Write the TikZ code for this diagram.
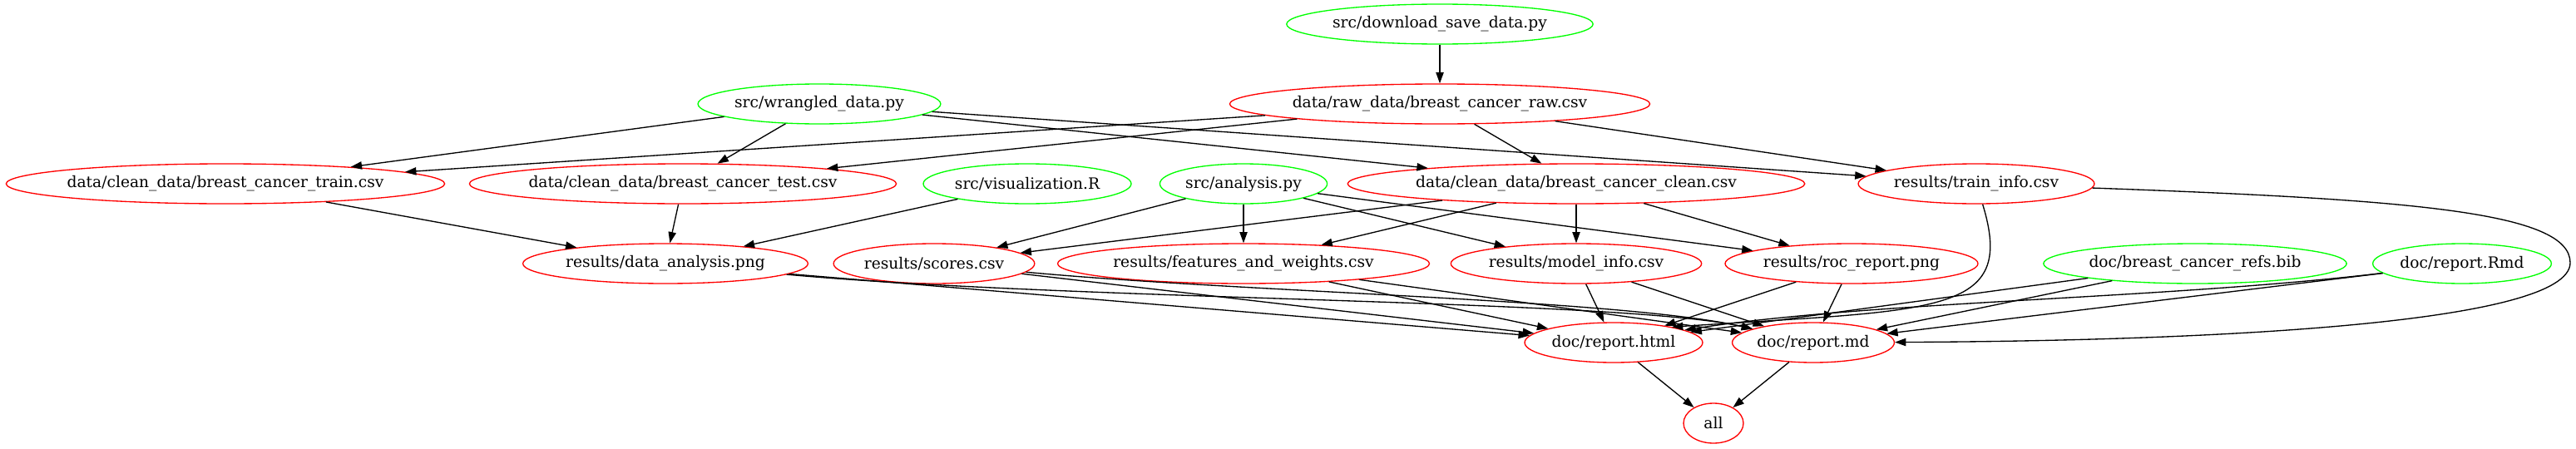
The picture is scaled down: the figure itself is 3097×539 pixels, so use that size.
\documentclass[tikz,border=0pt]{standalone}
\usepackage{fontspec}
\setmainfont{DejaVu Serif}
\usetikzlibrary{arrows.meta, shapes.geometric}

\definecolor{srcgreen}{RGB}{0,255,0}
\definecolor{outred}{RGB}{255,0,0}

\begin{document}
\begin{tikzpicture}[
    x=0.75pt, y=-0.75pt,
    font=\fontsize{14pt}{17pt}\selectfont,
    filebox/.style={
        ellipse, draw=#1, line width=1pt, inner xsep=1pt,
        minimum height=36pt, minimum width=54pt
    },
    srcfile/.style={filebox=srcgreen},
    outfile/.style={filebox=outred},
    arrow/.style={-{Triangle[length=10pt, width=7pt]}, line width=1pt, draw=black}
]
\useasboundingbox (0,0) rectangle (3097,539);

% Scripts and raw data (top rows)
\node[srcfile] (dl)      at (1731,29)  {src/download\_save\_data.py};
\node[srcfile] (wrangle) at (985,125)  {src/wrangled\_data.py};
\node[outfile] (raw)     at (1731,125) {data/raw\_data/breast\_cancer\_raw.csv};

% Clean data and analysis scripts
\node[outfile, inner xsep=-3pt] (train) at (271,221) {data/clean\_data/breast\_cancer\_train.csv};
\node[outfile, inner xsep=-3pt] (test)  at (821,221) {data/clean\_data/breast\_cancer\_test.csv};
\node[srcfile] (vis)       at (1235,221) {src/visualization.R};
\node[srcfile] (analysis)  at (1495,221) {src/analysis.py};
\node[outfile] (clean)     at (1895,221) {data/clean\_data/breast\_cancer\_clean.csv};
\node[outfile] (traininfo) at (2376,221) {results/train\_info.csv};

% Results and report sources
\node[outfile] (dataplot)  at (800,317)  {results/data\_analysis.png};
\node[outfile] (scores)    at (1123,317) {results/scores.csv};
\node[outfile] (weights)   at (1495,317) {results/features\_and\_weights.csv};
\node[outfile] (modelinfo) at (1895,317) {results/model\_info.csv};
\node[outfile] (roc)       at (2226,317) {results/roc\_report.png};
\node[srcfile] (refs)      at (2639,317) {doc/breast\_cancer\_refs.bib};
\node[srcfile] (rmd)       at (2960,317) {doc/report.Rmd};

% Reports and final target
\node[outfile] (html) at (1940,412) {doc/report.html};
\node[outfile] (md)   at (2180,412) {doc/report.md};
\node[outfile] (all)  at (2060,509) {all};

% Download and wrangling
\draw[arrow] (dl)      -- (raw);
\draw[arrow] (wrangle) -- (train);
\draw[arrow] (wrangle) -- (test);
\draw[arrow] (wrangle) -- (clean);
\draw[arrow] (wrangle) -- (traininfo);
\draw[arrow] (raw)     -- (train);
\draw[arrow] (raw)     -- (test);
\draw[arrow] (raw)     -- (clean);
\draw[arrow] (raw)     -- (traininfo);

% Visualization and analysis
\draw[arrow] (train)    -- (dataplot);
\draw[arrow] (test)     -- (dataplot);
\draw[arrow] (vis)      -- (dataplot);
\draw[arrow] (analysis) -- (scores);
\draw[arrow] (analysis) -- (weights);
\draw[arrow] (analysis) -- (modelinfo);
\draw[arrow] (analysis) -- (roc);
\draw[arrow] (clean)    -- (scores);
\draw[arrow] (clean)    -- (weights);
\draw[arrow] (clean)    -- (modelinfo);
\draw[arrow] (clean)    -- (roc);

% Everything feeds the two reports
\draw[arrow] (dataplot)  -- (html);
\draw[arrow] (dataplot)  .. controls (1300,362) and (1950,360) .. (md);
\draw[arrow] (scores)    -- (html);
\draw[arrow] (scores)    .. controls (1500,352) and (1950,360) .. (md);
\draw[arrow] (weights)   -- (html);
\draw[arrow] (weights)   -- (md);
\draw[arrow] (modelinfo) -- (html);
\draw[arrow] (modelinfo) -- (md);
\draw[arrow] (roc)       -- (html);
\draw[arrow] (roc)       -- (md);
\draw[arrow] (refs)      -- (html);
\draw[arrow] (refs)      -- (md);
\draw[arrow] (rmd)       .. controls (2600,360) and (2250,362) .. (html.10);
\draw[arrow] (rmd)       -- (md);
\draw[arrow] (traininfo) .. controls (2425,380) and (2330,372) .. (html.15);
\draw[arrow] (traininfo) .. controls (2900,240) and (3090,255) .. (3090,316)
                         .. controls (3090,390) and (2650,410) .. (md);

% Final target
\draw[arrow] (html) -- (all);
\draw[arrow] (md)   -- (all);

\end{tikzpicture}
\end{document}
